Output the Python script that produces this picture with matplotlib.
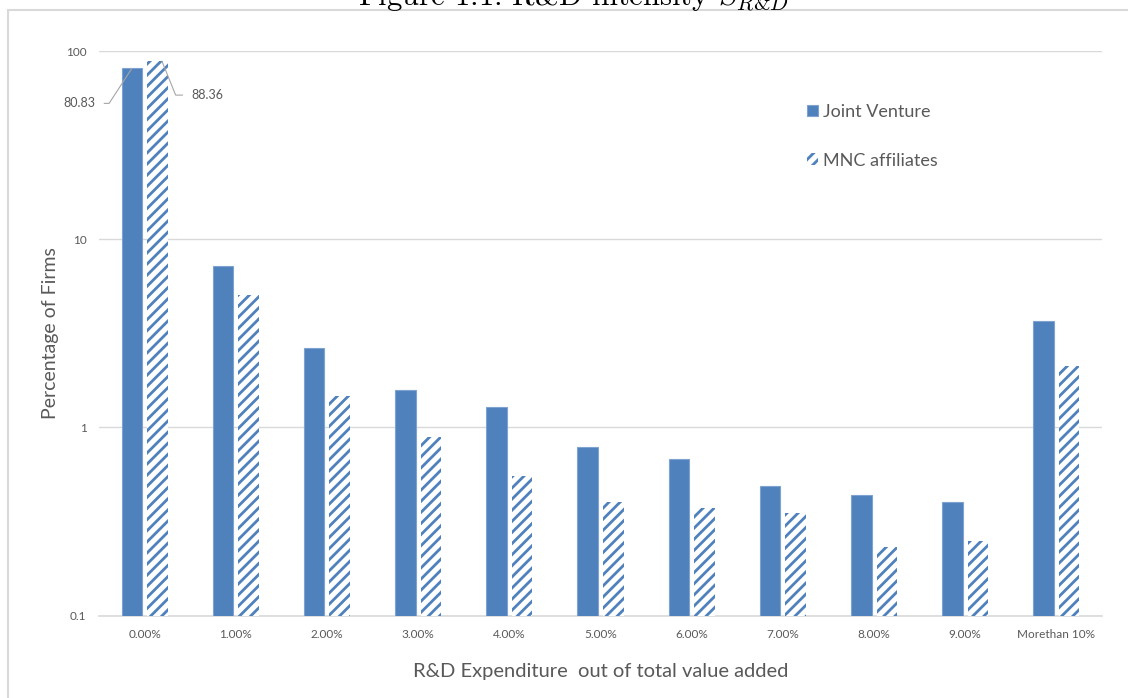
import numpy as np
import matplotlib.pyplot as plt
from matplotlib.patches import Rectangle

categories = ['0.00%', '1.00%', '2.00%', '3.00%', '4.00%', '5.00%',
              '6.00%', '7.00%', '8.00%', '9.00%', 'Morethan 10%']
joint_venture = [80.83, 7.18, 2.64, 1.58, 1.285, 0.782, 0.676, 0.486, 0.435, 0.399, 3.66]
mnc_affiliates = [88.36, 5.04, 1.476, 0.891, 0.549, 0.399, 0.371, 0.352, 0.230, 0.250, 2.11]
y_ticks = [0.1, 1, 10, 100]
y_tick_labels = ['0.1', '1', '10', '100']

blue = '#4F81BD'
grid_col = '#d9d9d9'
text_col = '#595959'

plt.rcParams['font.family'] = ['Lato', 'DejaVu Sans']
plt.rcParams['hatch.linewidth'] = 2.0
plt.rcParams['mathtext.fontset'] = 'cm'

fig = plt.figure(figsize=(11.28, 6.98), dpi=100)
ax = fig.add_axes([99 / 1128, 1 - 615.5 / 698, (1102 - 99) / 1128, (615.5 - 51) / 698])

x = np.arange(len(categories))
w = 0.225
ax.bar(x - 0.14, joint_venture, w, color=blue, edgecolor='#7fa3d0', linewidth=0.8,
       label='Joint Venture', zorder=3)
ax.bar(x + 0.14, mnc_affiliates, w, color='white', edgecolor=blue, linewidth=0,
       hatch='///', label='MNC affiliates', zorder=3)

ax.set_yscale('log')
ax.set_ylim(0.1, 100)
ax.set_xlim(-0.5, len(categories) - 0.5)
ax.set_yticks(y_ticks)
ax.set_yticklabels(y_tick_labels)
ax.minorticks_off()
ax.set_xticks(x)
ax.set_xticklabels(categories)
ax.tick_params(axis='both', length=0, labelsize=8.5, colors=text_col)
ax.tick_params(axis='x', pad=10)
ax.tick_params(axis='y', pad=9)
ax.grid(axis='y', color=grid_col, linewidth=1, zorder=0)
for s in ['top', 'right', 'left']:
    ax.spines[s].set_visible(False)
ax.spines['bottom'].set_color(grid_col)
ax.spines['bottom'].set_linewidth(1.2)

ax.set_ylabel('Percentage of Firms', fontsize=14, color=text_col, labelpad=5)
ax.set_xlabel('R&D Expenditure  out of total value added', fontsize=14.5,
              color=text_col, labelpad=16)

# value labels with leader lines on the first group
ax.annotate(f'{joint_venture[0]:.2f}', xy=(x[0] - 0.14, joint_venture[0]),
            xytext=(-36, -35), textcoords='offset pixels', ha='right', va='center',
            fontsize=9, color=text_col,
            arrowprops=dict(arrowstyle='-', color='#a6a6a6', lw=0.8, shrinkA=4, shrinkB=0,
                            connectionstyle='angle,angleA=0,angleB=57,rad=0'))
ax.annotate(f'{mnc_affiliates[0]:.2f}', xy=(x[0] + 0.19, mnc_affiliates[0]),
            xytext=(29, -34), textcoords='offset pixels', ha='left', va='center',
            fontsize=9, color=text_col,
            arrowprops=dict(arrowstyle='-', color='#a6a6a6', lw=0.8, shrinkA=4, shrinkB=0,
                            connectionstyle='angle,angleA=0,angleB=-68,rad=0'))

leg = ax.legend(loc='upper left', bbox_to_anchor=(798 / 1128, 1 - 95 / 698),
                bbox_transform=fig.transFigure, frameon=False, fontsize=13,
                handlelength=0.6, handleheight=0.6, handletextpad=0.3,
                labelspacing=1.8, borderpad=0)
for t in leg.get_texts():
    t.set_color(text_col)

# outer frame and caption running off the top edge
fig.patches.append(Rectangle((8 / 1128, -0.1), 1.2, 1 - 10.5 / 698 + 0.1,
                             transform=fig.transFigure, fill=False,
                             edgecolor=grid_col, linewidth=1.5))
fig.text(573 / 1128, 1 - 5 / 698, r'Figure 1.1: R&D intensity $S_{R&D}$',
         family='cmr10', fontsize=22, ha='center', va='baseline', color='black')

fig.savefig('out.png', dpi=100)
